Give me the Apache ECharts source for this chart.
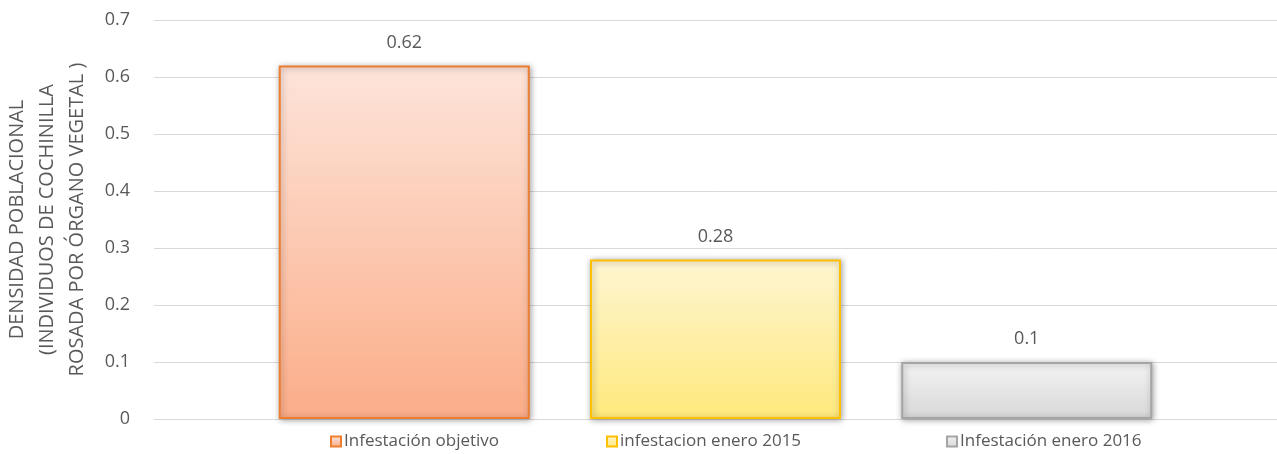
<!DOCTYPE html>
<html>
<head>
<meta charset="utf-8">
<script src="https://cdn.jsdelivr.net/npm/echarts@6/dist/echarts.min.js"></script>
<style>
  html, body { margin: 0; padding: 0; background: #fff; }
  #chart { width: 1277px; height: 454px; }
</style>
</head>
<body>
<div id="chart"></div>
<script>
// data
var categories = [""];
var seriesNames = ["Infestación objetivo", "infestacion enero 2015", "Infestación enero 2016"];
var values = [0.62, 0.28, 0.1];
var yTicks = [0, 0.1, 0.2, 0.3, 0.4, 0.5, 0.6, 0.7];

var fills = [
  ["#fde4da", "#fbad88"],
  ["#fef5d2", "#ffe97c"],
  ["#f3f3f3", "#d8d8d8"]
];
var borders = ["#ed7d31", "#ffc000", "#a5a5a5"];
var legendLeft = [325, 601, 941];

var chart = echarts.init(document.getElementById("chart"));

var series = [];
var legends = [];
for (var i = 0; i < seriesNames.length; i++) {
  series.push({
    name: seriesNames[i],
    type: "bar",
    barWidth: 251,
    barGap: "24%",
    data: [values[i]],
    itemStyle: {
      color: new echarts.graphic.LinearGradient(0, 0, 0, 1, [
        { offset: 0, color: fills[i][0] },
        { offset: 1, color: fills[i][1] }
      ]),
      borderColor: borders[i],
      borderWidth: 2,
      shadowColor: "rgba(0,0,0,0.35)",
      shadowBlur: 6,
      shadowOffsetX: 1,
      shadowOffsetY: 1
    },
    label: {
      show: true,
      position: "top",
      distance: 14,
      color: "#595959",
      fontSize: 18,
      fontFamily: "Open Sans"
    }
  });
  legends.push({
    data: [seriesNames[i]],
    left: legendLeft[i],
    bottom: -1,
    icon: "rect",
    itemWidth: 10,
    itemHeight: 10,
    itemGap: 0,
    textStyle: { color: "#595959", fontSize: 17, fontFamily: "Open Sans", padding: [0, 0, 0, -2] }
  });
}

var option = {
  animation: false,
  backgroundColor: "#fff",
  legend: legends,
  grid: {
    left: 154,
    right: 0,
    top: 20,
    bottom: 35,
    containLabel: false,
    outerBoundsMode: "none"
  },
  xAxis: {
    type: "category",
    data: categories,
    axisLine: { show: true, lineStyle: { color: "#d9d9d9" } },
    axisTick: { show: false },
    axisLabel: { show: false }
  },
  yAxis: {
    type: "value",
    min: yTicks[0],
    max: yTicks[yTicks.length - 1],
    interval: 0.1,
    name: "DENSIDAD POBLACIONAL\n(INDIVIDUOS DE COCHINILLA\nROSADA POR ÓRGANO VEGETAL )",
    nameLocation: "middle",
    nameRotate: 90,
    nameGap: 62,
    nameTextStyle: {
      color: "#595959",
      fontSize: 20,
      fontFamily: "Open Sans",
      lineHeight: 30
    },
    axisLine: { show: false },
    axisTick: { show: false },
    axisLabel: { color: "#595959", fontSize: 18, fontFamily: "Open Sans", margin: 24 },
    splitLine: { lineStyle: { color: "#d9d9d9", width: 1 } }
  },
  series: series
};

chart.setOption(option);
</script>
</body>
</html>
